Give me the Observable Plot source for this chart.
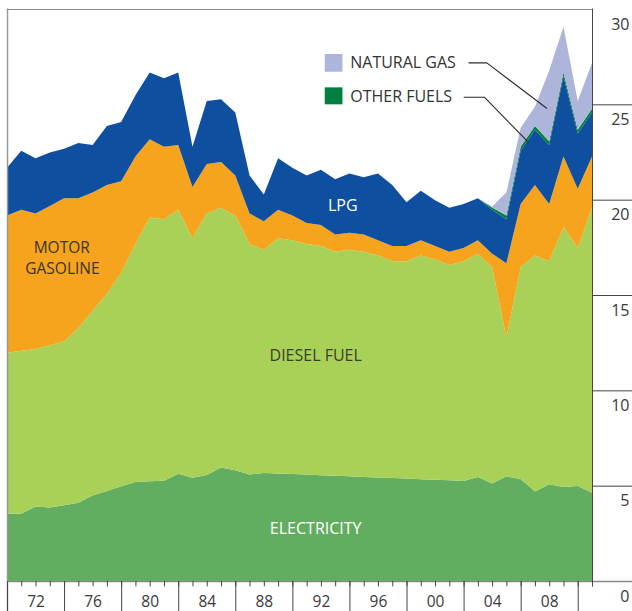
<!DOCTYPE html>
<html>
<head>
<meta charset="utf-8">
<script src="https://cdn.jsdelivr.net/npm/d3@7"></script>
<script src="https://cdn.jsdelivr.net/npm/@observablehq/plot@0.6"></script>
<style>
  html, body { margin: 0; padding: 0; background: #fff; }
  svg { display: block; }
</style>
</head>
<body>
<div id="chart"></div>
<script>
// ---- Data ----
const years = [1970,1971,1972,1973,1974,1975,1976,1977,1978,1979,
               1980,1981,1982,1983,1984,1985,1986,1987,1988,1989,
               1990,1991,1992,1993,1994,1995,1996,1997,1998,1999,
               2000,2001,2002,2003,2004,2005,2006,2007,2008,2009,
               2010,2011];

const electricity = [3.53,3.53,3.91,3.86,3.97,4.11,4.49,4.72,4.97,5.19,
                     5.23,5.26,5.63,5.42,5.56,5.95,5.81,5.58,5.67,5.64,
                     5.61,5.58,5.55,5.52,5.49,5.46,5.43,5.40,5.37,5.34,
                     5.31,5.28,5.25,5.46,5.11,5.49,5.35,4.70,5.07,4.93,
                     4.98,4.63];

const dieselFuel = [8.44,8.54,8.26,8.51,8.60,9.16,9.68,10.35,11.20,12.48,
                    13.84,13.71,13.84,12.55,13.71,13.62,13.36,12.09,11.70,12.33,
                    12.26,12.09,12.02,11.75,11.88,11.81,11.64,11.37,11.40,11.73,
                    11.56,11.29,11.52,11.71,11.36,7.28,11.12,12.37,11.70,13.64,
                    12.49,14.94];

const motorGasoline = [7.2,7.4,7.1,7.3,7.5,6.8,6.2,5.7,4.8,4.6,
                       4.1,3.8,3.4,2.7,2.6,2.4,2.1,1.6,1.5,1.5,
                       1.3,1.1,1.1,0.9,0.9,0.9,0.8,0.8,0.8,0.8,
                       0.7,0.7,0.7,0.7,0.7,3.9,3.3,3.7,3.0,3.7,
                       3.1,2.7];

const lpg = [2.5,3.1,2.9,2.8,2.6,2.9,2.5,3.1,3.1,3.2,
             3.5,3.6,3.8,2.1,3.3,3.3,3.3,2.0,1.4,2.7,
             2.5,2.5,2.9,2.9,3.1,3.0,3.5,3.2,2.3,2.6,
             2.4,2.3,2.3,2.2,2.3,2.3,2.8,2.9,3.1,4.2,
             2.9,2.3];

const otherFuels = [0,0,0,0,0,0,0,0,0,0,
                    0,0,0,0,0,0,0,0,0,0,
                    0,0,0,0,0,0,0,0,0,0,
                    0,0,0,0,0.12,0.2,0.2,0.2,0.2,0.2,
                    0.2,0.2];

const naturalGas = [0,0,0,0,0,0,0,0,0,0,
                    0,0,0,0,0,0,0,0,0,0,
                    0,0,0,0,0,0,0,0,0,0,
                    0,0,0,0,0.05,1.2,1.0,1.0,3.7,2.4,
                    1.5,2.4];

const fuels = ["ELECTRICITY","DIESEL FUEL","MOTOR GASOLINE","LPG","OTHER FUELS","NATURAL GAS"];
const fuelColors = ["#62ad5f","#a9d158","#f6a31d","#0e4f9f","#007f40","#aeb5da"];
const seriesValues = [electricity, dieselFuel, motorGasoline, lpg, otherFuels, naturalGas];

// axis ticks / labels
const majorTicks = [1970,1974,1978,1982,1986,1990,1994,1998,2002,2006,2010];
const labelYears = [1972,1976,1980,1984,1988,1992,1996,2000,2004,2008];
const xTickLabels = ["72","76","80","84","88","92","96","00","04","08"];
const yTicks = [0,5,10,15,20,25,30];
const yTickLabels = ["0","5","10","15","20","25","30"];

// ---- Build table ----
const data = [];
fuels.forEach((f, i) => years.forEach((yr, j) => data.push({year: yr, fuel: f, value: seriesValues[i][j]})));

const seriesLabels = [
  {text: "MOTOR", x: 1973.8, y: 17.5, fill: "#3a3426", size: 15.5},
  {text: "GASOLINE", x: 1973.85, y: 16.38, fill: "#3a3426", size: 15.5},
  {text: "DIESEL FUEL", x: 1991.6, y: 11.85, fill: "#3a3f28", size: 16},
  {text: "LPG", x: 1993.5, y: 19.72, fill: "#ffffff", size: 16},
  {text: "ELECTRICITY", x: 1991.6, y: 2.78, fill: "#ffffff", size: 16}
];

const legendItems = [
  {fuel: "NATURAL GAS", x1: 1992.27, x2: 1993.51, y1: 26.71, y2: 27.64, tx: 1994.02, ty: 27.18},
  {fuel: "OTHER FUELS", x1: 1992.27, x2: 1993.51, y1: 25.0, y2: 25.89, tx: 1994.02, ty: 25.40}
];
const leaderNG = [[2002.35, 27.2], [2003.59, 27.2], [2007.79, 24.82]];
const leaderOF = [[2002.0, 25.40], [2003.42, 25.40], [2006.5, 23.04]];

const yBottom = -1.62; // bottom edge of picture in y units

const chart = Plot.plot({
  width: 632,
  height: 611,
  marginLeft: 7,
  marginRight: 40,
  marginTop: 9,
  marginBottom: 30,
  style: {fontFamily: "'Open Sans', 'Noto Sans', sans-serif", background: "#fff"},
  x: {domain: [1970, 2011], axis: null},
  y: {domain: [0, 30], axis: null},
  color: {domain: fuels, range: fuelColors},
  marks: [
    Plot.ruleY([0], {x1: 1970, x2: 2014, stroke: "#8a8a8a", strokeWidth: 1.5}),
    Plot.areaY(data, {x: "year", y: "value", z: "fuel", fill: "fuel", order: fuels, curve: "linear"}),
    Plot.ruleX([1970], {y1: 30.02, y2: yBottom, stroke: "#999", strokeWidth: 1.5}),
    Plot.ruleY([30], {x1: 1970, x2: 2011, stroke: "#8a8a8a", strokeWidth: 1}),
    Plot.ruleX([2011], {y1: -0.28, y2: 30.02, stroke: "#444", strokeWidth: 1}),
    Plot.ruleY(yTicks.filter(d => d > 0 && d < 30), {x1: 2011, x2: 2014, stroke: "#444", strokeWidth: 1}),
    Plot.ruleX(years, {y1: 0, y2: -0.28, stroke: "#444", strokeWidth: 1}),
    Plot.ruleX(majorTicks, {y1: 0, y2: yBottom, stroke: "#444", strokeWidth: 1}),
    Plot.text(labelYears, {x: d => d, y: 0, dy: 21, text: (d, i) => xTickLabels[i], fontSize: 15.5, fill: "#3a3a3a"}),
    Plot.text(yTicks, {x: 2011, y: d => d, dx: 37, dy: 15, text: (d, i) => yTickLabels[i], textAnchor: "end", fontSize: 16, fill: "#3a3a3a"}),
    ...seriesLabels.map(s => Plot.text([s], {x: "x", y: "y", text: "text", fill: s.fill, fontSize: s.size})),
    Plot.rect(legendItems, {x1: "x1", x2: "x2", y1: "y1", y2: "y2", fill: "fuel"}),
    Plot.text(legendItems, {x: "tx", y: "ty", text: "fuel", textAnchor: "start", fontSize: 16, fill: "#333"}),
    Plot.line(leaderNG, {x: d => d[0], y: d => d[1], stroke: "#2a2a2a", strokeWidth: 1.1}),
    Plot.line(leaderOF, {x: d => d[0], y: d => d[1], stroke: "#2a2a2a", strokeWidth: 1.1})
  ]
});

document.getElementById("chart").appendChild(chart);
</script>
</body>
</html>
